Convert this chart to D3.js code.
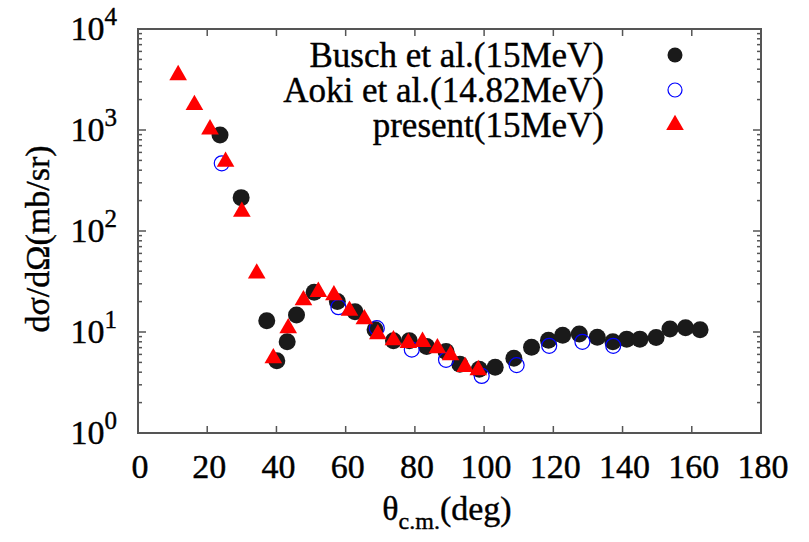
<!DOCTYPE html>
<html>
<head>
<meta charset="utf-8">
<script src="https://cdn.jsdelivr.net/npm/d3@7.9.0/dist/d3.min.js"></script>
<style>
  body { margin: 0; background: #fff; }
  svg text { font-family: "Liberation Serif", "Times New Roman", serif; fill: #000; stroke: #000; stroke-width: 0.4px; }
</style>
</head>
<body>
<svg id="chart" width="809" height="542"></svg>
<script>
// Busch et al. (15 MeV) - filled black circles
const buschAngle = [23.7, 29.8, 37.2, 40.1, 43.1, 45.8, 50.9, 57.6, 62.7, 68.5, 73.8, 78.4, 83.4, 89.0, 93.0,
  98.6, 103.2, 108.6, 113.7, 118.6, 122.7, 127.5, 132.7, 137.2, 141.2, 145.0, 149.7, 153.7, 158.2, 162.4];
const buschXs = [892, 214, 12.9, 5.2, 8.0, 14.7, 24.7, 20.0, 15.9, 10.5, 8.2, 8.2, 7.2, 6.4, 4.8,
  4.27, 4.47, 5.5, 7.05, 8.3, 9.3, 9.55, 8.86, 8.0, 8.5, 8.5, 8.8, 10.7, 11.0, 10.5];

// Aoki et al. (14.82 MeV) - open blue circles
const aokiAngle = [24.2, 57.9, 69.0, 79.1, 89.0, 99.3, 109.4, 118.8, 128.4, 137.3];
const aokiXs = [468, 17.6, 10.9, 6.7, 5.3, 3.67, 4.7, 7.3, 8.0, 7.3];

// present (15 MeV) - red triangles
const presentAngle = [11.6, 16.3, 20.8, 25.3, 30.0, 34.3, 39.1, 43.4, 47.8, 52.1, 56.6, 61.1, 65.4, 69.3,
  73.8, 78.1, 82.2, 86.5, 90.3, 94.5, 98.3];
const presentXs = [3500, 1770, 1016, 486, 155, 38, 5.5, 10.9, 20.7, 25, 23.2, 16.3, 13.4, 9.5,
  8.3, 7.8, 8.0, 6.9, 5.9, 4.5, 4.2];

const xTicks = [0, 20, 40, 60, 80, 100, 120, 140, 160, 180];
const yPowers = [0, 1, 2, 3, 4];
const legendLabels = ['Busch et al.(15MeV)', 'Aoki et al.(14.82MeV)', 'present(15MeV)'];

const svg = d3.select('#chart');
const plot = { left: 138, right: 761, top: 29, bottom: 433 };
const axisColor = '#555';
const fontSize = 34;

const x = d3.scaleLinear().domain([0, 180]).range([plot.left, plot.right]);
const y = d3.scaleLog().domain([1, 10000]).range([plot.bottom, plot.top]);

// ticks (inside, mirrored)
const tickG = svg.append('g').attr('stroke', axisColor).attr('stroke-width', 1.5);
xTicks.forEach(t => {
  tickG.append('line').attr('x1', x(t)).attr('x2', x(t)).attr('y1', plot.bottom).attr('y2', plot.bottom - 7);
  tickG.append('line').attr('x1', x(t)).attr('x2', x(t)).attr('y1', plot.top).attr('y2', plot.top + 7);
});
yPowers.forEach(p => {
  const v = Math.pow(10, p);
  tickG.append('line').attr('x1', plot.left).attr('x2', plot.left + 8).attr('y1', y(v)).attr('y2', y(v));
  tickG.append('line').attr('x1', plot.right).attr('x2', plot.right - 8).attr('y1', y(v)).attr('y2', y(v));
  if (p < 4) {
    for (let m = 2; m <= 9; m++) {
      const mv = m * v;
      tickG.append('line').attr('x1', plot.left).attr('x2', plot.left + 4).attr('y1', y(mv)).attr('y2', y(mv));
      tickG.append('line').attr('x1', plot.right).attr('x2', plot.right - 4).attr('y1', y(mv)).attr('y2', y(mv));
    }
  }
});

// frame
svg.append('rect')
  .attr('x', plot.left).attr('y', plot.top)
  .attr('width', plot.right - plot.left).attr('height', plot.bottom - plot.top)
  .attr('fill', 'none').attr('stroke', axisColor).attr('stroke-width', 2);

// x tick labels
svg.append('g').selectAll('text').data(xTicks).join('text')
  .attr('x', d => x(d) + 2).attr('y', 478)
  .attr('text-anchor', 'middle').attr('font-size', fontSize)
  .text(d => d);

// y tick labels 10^p
yPowers.forEach(p => {
  const t = svg.append('text')
    .attr('x', 117).attr('y', y(Math.pow(10, p)) + 11)
    .attr('text-anchor', 'end').attr('font-size', fontSize);
  t.append('tspan').text('10');
  t.append('tspan').attr('dy', -15).attr('font-size', 25).text(p);
});

// axis titles
const xt = svg.append('text')
  .attr('x', 447).attr('y', 520)
  .attr('text-anchor', 'middle').attr('font-size', fontSize);
xt.append('tspan').text('θ');
xt.append('tspan').attr('dy', 9).attr('font-size', 24).text('c.m.');
xt.append('tspan').attr('dy', -9).text('(deg)');

svg.append('text')
  .attr('transform', 'translate(49,239) rotate(-90)')
  .attr('text-anchor', 'middle').attr('font-size', fontSize)
  .text('dσ/dΩ(mb/sr)');

// data: black circles, then blue, then red on top
const marks = svg.append('g');
const triangle = d3.symbol(d3.symbolTriangle, 135);

marks.selectAll('circle.busch').data(buschAngle).join('circle')
  .attr('class', 'busch')
  .attr('cx', d => x(d)).attr('cy', (d, i) => y(buschXs[i]))
  .attr('r', 8.5).attr('fill', '#1a1a1a');

marks.selectAll('circle.aoki').data(aokiAngle).join('circle')
  .attr('class', 'aoki')
  .attr('cx', d => x(d)).attr('cy', (d, i) => y(aokiXs[i]))
  .attr('r', 7.5).attr('fill', 'none').attr('stroke', '#0000ff').attr('stroke-width', 1.2);

marks.selectAll('path.present').data(presentAngle).join('path')
  .attr('class', 'present')
  .attr('d', triangle)
  .attr('transform', (d, i) => `translate(${x(d)},${y(presentXs[i])})`)
  .attr('fill', '#ff0000');

// legend
const legendY = [55, 90, 125];
legendLabels.forEach((lab, i) => {
  svg.append('text')
    .attr('x', 604).attr('y', legendY[i] + 12)
    .attr('text-anchor', 'end').attr('font-size', 35)
    .text(lab);
});
svg.append('circle').attr('cx', 675).attr('cy', legendY[0]).attr('r', 7.5).attr('fill', '#1a1a1a');
svg.append('circle').attr('cx', 675).attr('cy', legendY[1]).attr('r', 7)
  .attr('fill', 'none').attr('stroke', '#0000ff').attr('stroke-width', 1.2);
svg.append('path').attr('d', triangle).attr('transform', `translate(675,${legendY[2]})`).attr('fill', '#ff0000');
</script>
</body>
</html>
